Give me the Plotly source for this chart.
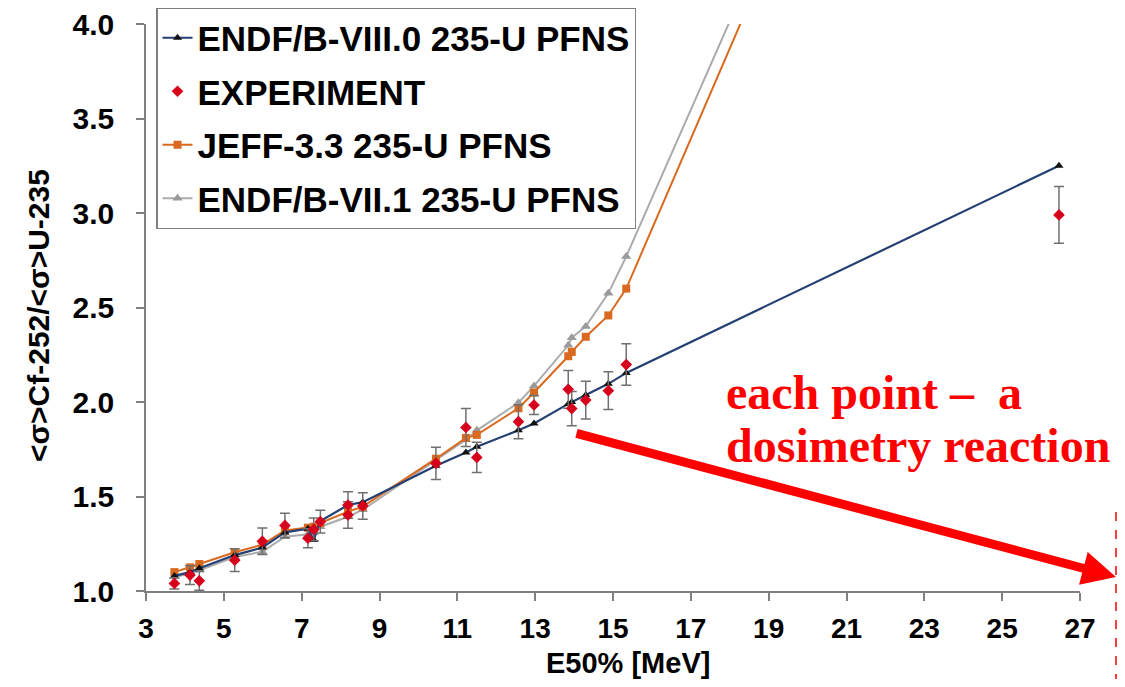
import plotly.graph_objects as go

# ---- data ----
energy = [3.73, 4.13, 4.37, 5.28, 5.99, 6.57, 7.16, 7.31, 7.48, 8.19, 8.19, 8.57,
          10.45, 11.22, 11.50, 12.57, 12.97, 13.85, 13.94, 14.30, 14.88, 15.34, 26.46]
experiment = [1.04, 1.084, 1.054, 1.163, 1.263, 1.347, 1.279, 1.326, 1.367, 1.455, 1.402, 1.45,
              1.675, 1.865, 1.707, 1.896, 1.984, 2.067, 1.965, 2.01, 2.06, 2.198, 2.99]
experiment_err = [0.03, 0.05, 0.05, 0.06, 0.07, 0.065, 0.05, 0.06, 0.06, 0.07, 0.07, 0.07,
                  0.085, 0.10, 0.08, 0.09, 0.05, 0.10, 0.09, 0.10, 0.10, 0.11, 0.15]
endf_b8 = [1.08, 1.10, 1.12, 1.19, 1.23, 1.31, 1.33, 1.27, 1.37, 1.455, 1.455, 1.47,
           1.663, 1.733, 1.763, 1.85, 1.886, 1.99, 2.00, 2.037, 2.096, 2.154, 3.25]
jeff33 = [1.10, 1.125, 1.143, 1.205, 1.245, 1.32, 1.335, 1.34, 1.36, 1.42, 1.42, 1.446,
          1.70, 1.81, 1.826, 1.967, 2.05, 2.242, 2.265, 2.345, 2.458, 2.60, 7.91]
endf_b71 = [1.075, 1.09, 1.11, 1.18, 1.208, 1.287, 1.30, 1.31, 1.34, 1.393, 1.393, 1.43,
            1.69, 1.80, 1.85, 1.996, 2.085, 2.30, 2.34, 2.40, 2.575, 2.77, 7.97]

series_names = ["ENDF/B-VIII.0 235-U PFNS", "EXPERIMENT", "JEFF-3.3 235-U PFNS", "ENDF/B-VII.1 235-U PFNS"]
x_ticks = [3, 5, 7, 9, 11, 13, 15, 17, 19, 21, 23, 25, 27]
y_ticks = [1.0, 1.5, 2.0, 2.5, 3.0, 3.5, 4.0]
x_title = "E50% [MeV]"
y_title = "&lt;σ&gt;Cf-252/&lt;σ&gt;U-235"
note_lines = ["each point –  a", "dosimetry reaction"]

FONT = "Liberation Sans, Arial, sans-serif"
SERIF = "Liberation Serif, Times New Roman, serif"

# the page body adds an 8 px margin on every side; size the figure so the
# page does not overflow, and work in screen pixels minus that offset
OFF = 8
FW, FH = 1125 - 2 * OFF, 687 - 2 * OFF
L, R, T, B = 146 - OFF, 1080 - OFF, 24 - OFF, 591 - OFF
W, H = R - L, B - T


def px(xs):
    return (xs - OFF - L) / W


def py(ys):
    return (B - (ys - OFF)) / H


fig = go.Figure()

fig.add_trace(go.Scatter(
    x=energy, y=endf_b71, name=series_names[3], mode="lines+markers",
    line=dict(color="#ABABAB", width=2),
    marker=dict(symbol="triangle-up", size=9, color="#9A9A9A"),
    legendgroup="g4", legendrank=4))
fig.add_trace(go.Scatter(
    x=energy, y=jeff33, name=series_names[2], mode="lines+markers",
    line=dict(color="#D9691F", width=2),
    marker=dict(symbol="square", size=8, color="#D9691F"),
    legendgroup="g3", legendrank=3))
fig.add_trace(go.Scatter(
    x=energy, y=endf_b8, name=series_names[0], mode="lines+markers",
    line=dict(color="#243F73", width=2.2),
    marker=dict(symbol="triangle-up", size=8, color="#111111"),
    legendgroup="g1", legendrank=1))
fig.add_trace(go.Scatter(
    x=energy, y=experiment, name=series_names[1], mode="markers",
    marker=dict(symbol="diamond", size=9, color="#D6001C"),
    error_y=dict(type="data", array=experiment_err, color="#707070", thickness=1.5, width=5),
    legendgroup="g2", legendrank=2))

# axis titles as annotations for exact placement
fig.add_annotation(xref="paper", yref="paper", x=px(628), y=py(663), showarrow=False,
                   xanchor="center", yanchor="middle", text=x_title,
                   font=dict(family=FONT, size=29, color="#000000", weight="bold"))
fig.add_annotation(xref="paper", yref="paper", x=px(38), y=py(316), showarrow=False,
                   xanchor="center", yanchor="middle", text=y_title, textangle=-90,
                   font=dict(family=FONT, size=30, color="#000000", weight="bold"))

# red annotation text and arrow
fig.add_annotation(xref="paper", yref="paper", x=px(724), y=py(392),
                   xanchor="left", yanchor="middle", showarrow=False,
                   text=note_lines[0],
                   font=dict(family=SERIF, size=48, color="#FF0000", weight="bold"))
fig.add_annotation(xref="paper", yref="paper", x=px(724), y=py(445),
                   xanchor="left", yanchor="middle", showarrow=False,
                   text=note_lines[1],
                   font=dict(family=SERIF, size=48, color="#FF0000", weight="bold"))
fig.add_annotation(xref="paper", yref="paper", x=px(1117), y=py(577),
                   ax=575 - 1117, ay=433 - 577, axref="pixel", ayref="pixel",
                   text="", showarrow=True, arrowhead=2, arrowsize=0.75, arrowwidth=9,
                   arrowcolor="#FF0000")
fig.add_shape(type="line", xref="paper", yref="paper",
              x0=px(1116), x1=px(1116), y0=py(512), y1=py(679),
              line=dict(color="#FF0000", width=1.5, dash="dash"), layer="above")

fig.update_layout(
    width=FW, height=FH,
    margin=dict(l=L, r=FW - R, t=T, b=FH - B, autoexpand=False),
    paper_bgcolor="white", plot_bgcolor="white",
    font=dict(family=FONT, color="#000000"),
    showlegend=True,
    legend=dict(x=px(156), y=py(7), xanchor="left", yanchor="top",
                bgcolor="white", bordercolor="#7F7F7F", borderwidth=1.5,
                font=dict(family=FONT, size=35, color="#000000", weight="bold"),
                tracegroupgap=5, traceorder="grouped"),
    xaxis=dict(range=[3, 27], tickvals=x_ticks, ticks="outside", ticklen=8, tickwidth=1.5,
               tickcolor="#808080", showline=True, linecolor="#808080", linewidth=1.5,
               showgrid=False, zeroline=False, automargin=False, ticklabelstandoff=4,
               ticklabeloverflow="allow",
               tickfont=dict(family=FONT, size=28, color="#000000", weight="bold")),
    yaxis=dict(range=[1, 4], tickvals=y_ticks, tickformat=".1f", ticks="outside", ticklen=8,
               tickwidth=1.5, tickcolor="#808080", showline=True, linecolor="#808080", linewidth=1.5,
               showgrid=False, zeroline=False, automargin=False, ticklabelstandoff=16,
               ticklabeloverflow="allow",
               tickfont=dict(family=FONT, size=30, color="#000000", weight="bold")),
)

fig.write_html("out.html")
